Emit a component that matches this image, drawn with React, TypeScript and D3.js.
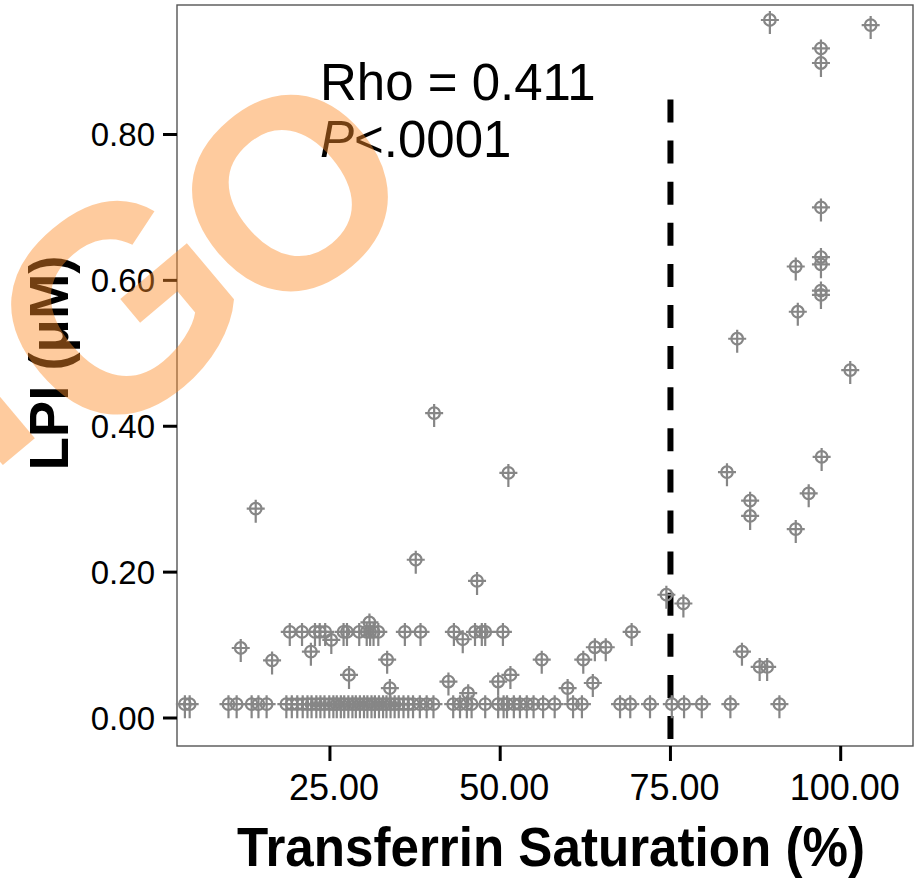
import React from "react";
import * as d3 from "d3";

// values: [transferrin saturation %, LPI µM]
const upperPoints: [number, number][] = [
  [89.6, 0.957], [104.4, 0.95], [97.1, 0.918], [97.1, 0.898], [97.1, 0.7],
  [97.1, 0.632], [97.1, 0.622], [93.4, 0.619], [97.1, 0.586], [97.1, 0.58],
  [93.7, 0.557], [84.8, 0.52], [101.4, 0.477], [97.2, 0.358], [83.3, 0.337],
  [86.7, 0.298], [86.7, 0.277], [95.3, 0.308], [93.4, 0.259],
];

const middlePoints: [number, number][] = [
  [14.1, 0.287], [40.3, 0.418], [51.2, 0.336], [37.6, 0.217], [46.6, 0.188],
  [74.4, 0.169], [76.9, 0.157], [30.8, 0.131], [25.2, 0.107], [44.5, 0.108],
];

// points sitting at about 0.12
const rowTsat = [19.1, 20.9, 22.8, 23.5, 24.3, 27.0, 27.5, 29.3, 30.4, 30.9, 31.4, 32.1, 36.0, 38.3, 43.2, 46.3, 47.3, 47.8, 50.4, 69.3];
const rowLpi = 0.118;

const lowPoints: [number, number][] = [
  [11.9, 0.096], [16.5, 0.079], [22.2, 0.091], [27.8, 0.059], [33.4, 0.08],
  [33.8, 0.041], [42.4, 0.05], [56.1, 0.08], [62.2, 0.08], [63.9, 0.097],
  [65.5, 0.097], [49.7, 0.05], [51.5, 0.059], [59.9, 0.041], [63.6, 0.048],
  [85.5, 0.091], [88.1, 0.07], [89.2, 0.07], [45.3, 0.034],
];

// points at the floor (~0.02)
const floorTsat = [
  3.7, 4.4, 10.1, 11.3, 13.5, 14.5, 15.7,
  18.6, 19.4, 20.2, 21.0, 21.7, 22.3, 23.0, 23.6, 24.2, 24.9, 25.5, 26.0, 26.6, 27.1,
  27.7, 28.3, 28.8, 29.4, 30.0, 30.5, 31.1, 31.6, 32.2, 32.8, 33.3, 33.9, 34.5, 35.1,
  35.8, 36.5, 37.2, 38.2, 39.2, 40.2, 43.1, 44.1, 45.1, 45.8, 47.8, 49.7, 50.5, 51.0,
  52.0, 52.9, 53.9, 54.9, 56.3, 58.0, 60.7, 62.0, 67.6, 69.1, 72.0, 75.2, 77.0, 79.6,
  83.8, 91.0,
];
const floorLpi = 0.019;

const xTicks = [25, 50, 75, 100];
const yTicks = [0, 0.2, 0.4, 0.6, 0.8];
const cutoff = 75;
const cutoffTop = 0.848;

const W = 916, H = 880;
const frame = { left: 177, right: 913, top: 5, bottom: 746 };
const font = "'Liberation Sans', Arial, Helvetica, sans-serif";

const App = () => {
  const x = d3.scaleLinear().domain([0, 100]).range([159.7, 840.7]);
  const y = d3.scaleLinear().domain([0, 0.8]).range([718, 134.5]);
  const fmt = d3.format(".2f");

  const all: [number, number][] = [
    ...floorTsat.map(t => [t, floorLpi] as [number, number]),
    ...lowPoints,
    ...rowTsat.map(t => [t, rowLpi] as [number, number]),
    ...middlePoints,
    ...upperPoints,
  ];

  const marker = "M-9,0H9M0,-9V14";
  const wm = { fill: "#fd8c28", fillOpacity: 0.45, fontWeight: "bold" as const };

  return (
    <svg width={W} height={H} style={{ position: "absolute", left: 0, top: 0, background: "#fff" }} fontFamily={font}>
      <rect x={frame.left} y={frame.top} width={frame.right - frame.left} height={frame.bottom - frame.top}
        fill="none" stroke="#555" strokeWidth={1.4} />

      {/* y axis */}
      {yTicks.map(t => (
        <g key={t} transform={`translate(0,${y(t)})`}>
          <line x1={163} x2={frame.left} stroke="#000" strokeWidth={3} />
          <text x={155} dy="0.36em" textAnchor="end" fontSize={33}>{fmt(t)}</text>
        </g>
      ))}

      {/* x axis */}
      {xTicks.map(t => (
        <g key={t} transform={`translate(${x(t)},0)`}>
          <line y1={frame.bottom} y2={frame.bottom + 15} stroke="#000" strokeWidth={3} />
          <text x={4} y={800} textAnchor="middle" fontSize={36}>{fmt(t)}</text>
        </g>
      ))}

      <text x={551} y={866} textAnchor="middle" fontSize={56} fontWeight="bold"
        textLength={628} lengthAdjust="spacingAndGlyphs">Transferrin Saturation (%)</text>
      <text transform="translate(68,363) rotate(-90)" textAnchor="middle" fontSize={56} fontWeight="bold"
        textLength={215} lengthAdjust="spacingAndGlyphs">LPI (μM)</text>

      {/* cutoff line */}
      <line x1={x(cutoff)} x2={x(cutoff)} y1={y(cutoffTop)} y2={frame.bottom}
        stroke="#000" strokeWidth={6} strokeDasharray="23 18.1" />

      {/* points */}
      <g fill="none" stroke="#868686" strokeWidth={2.2}>
        {all.map((d, i) => (
          <g key={i} transform={`translate(${x(d[0])},${y(d[1])})`}>
            <circle r={5.8} />
            <path d={marker} />
          </g>
        ))}
      </g>

      <text x={320} y={100} fontSize={51}>Rho = 0.411</text>
      <text x={320} y={157} fontSize={51}><tspan fontStyle="italic">P</tspan>&lt;.0001</text>

      {/* watermark */}
      <g {...wm} textAnchor="middle">
        <text transform="translate(288,190) rotate(-40)" y={97} fontSize={270}>O</text>
        <text transform="translate(115,305) rotate(-40)" y={104} fontSize={290}>G</text>
        <text transform="translate(-48,372) rotate(-40)" y={104} fontSize={290}>I</text>
      </g>
    </svg>
  );
};

export default App;
